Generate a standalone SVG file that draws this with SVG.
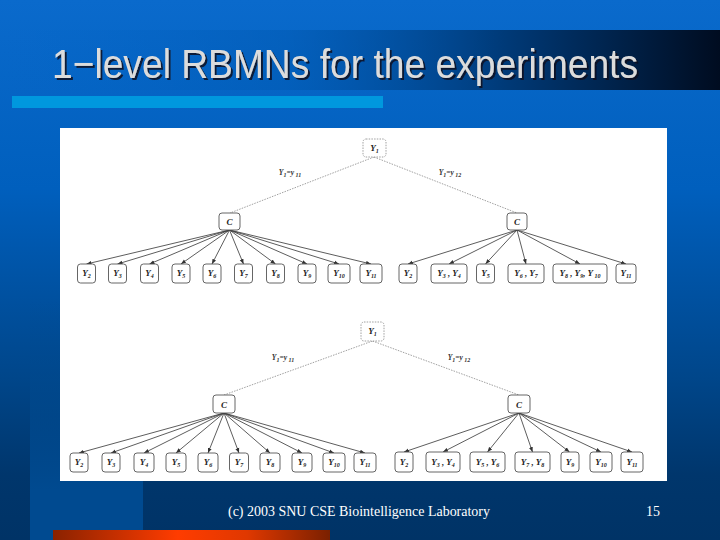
<svg xmlns="http://www.w3.org/2000/svg" width="720" height="540" viewBox="0 0 720 540">
<defs>
<linearGradient id="bg" x1="0" y1="0" x2="0" y2="540" gradientUnits="userSpaceOnUse">
<stop offset="0" stop-color="#0a6acc"/>
<stop offset="0.35" stop-color="#005fbd"/>
<stop offset="0.7" stop-color="#00468a"/>
<stop offset="0.88" stop-color="#00366c"/>
<stop offset="1" stop-color="#003366"/>
</linearGradient>
<linearGradient id="col" x1="0" y1="300" x2="0" y2="490" gradientUnits="userSpaceOnUse">
<stop offset="0" stop-color="#004a90" stop-opacity="0"/>
<stop offset="1" stop-color="#004a90" stop-opacity="1"/>
</linearGradient>
<linearGradient id="band" x1="0" y1="0" x2="1" y2="0">
<stop offset="0" stop-color="#0062c4" stop-opacity="0"/>
<stop offset="0.4" stop-color="#0058b0" stop-opacity="0.5"/>
<stop offset="0.7" stop-color="#003a78"/>
<stop offset="1" stop-color="#000c20"/>
</linearGradient>
<linearGradient id="orange" x1="0" y1="0" x2="1" y2="0">
<stop offset="0" stop-color="#8a2200"/>
<stop offset="0.45" stop-color="#ff3c00"/>
<stop offset="0.7" stop-color="#e03800"/>
<stop offset="1" stop-color="#7a2000"/>
</linearGradient>
<filter id="shadow" x="-5%" y="-20%" width="110%" height="150%">
<feDropShadow dx="2" dy="2" stdDeviation="0.6" flood-color="#0a1020" flood-opacity="0.85"/>
</filter>
<marker id="ah" viewBox="0 0 10 10" refX="10" refY="5" markerWidth="5" markerHeight="5" orient="auto" markerUnits="userSpaceOnUse">
<path d="M0,1 L10,5 L0,9 z" fill="#333"/>
</marker>
<style>
.leaf{fill:#fff;stroke:#555;stroke-width:0.9}
.root{fill:#fff;stroke:#888;stroke-width:0.8;stroke-dasharray:1.5 1.2}
.lbl{font-family:"Liberation Serif",serif;font-style:italic;font-weight:bold;font-size:9px;fill:#222;text-anchor:middle}
.sub{font-size:6px}
.el{font-family:"Liberation Serif",serif;font-style:italic;font-weight:bold;font-size:7.5px;fill:#333;text-anchor:middle}
.arr{stroke:#333;stroke-width:0.8;fill:none;marker-end:url(#ah)}
.dash{stroke:#888;stroke-width:0.8;fill:none;stroke-dasharray:1.5 1.2}
</style>
</defs>

<rect width="720" height="540" fill="url(#bg)"/>
<rect x="30" y="300" width="113" height="240" fill="url(#col)"/>
<rect x="0" y="30" width="720" height="60" fill="url(#band)"/>
<rect x="12" y="96" width="371" height="12" fill="#0098de"/>

<text x="52" y="78" font-family="Liberation Sans, Arial, sans-serif" font-size="41" fill="#dcdcdc" filter="url(#shadow)" textLength="586" lengthAdjust="spacingAndGlyphs">1−level RBMNs for the experiments</text>

<rect x="60" y="128" width="607" height="353" fill="#ffffff"/>

<g id="connectors">
<line class="dash" x1="374" y1="157" x2="230" y2="213"/>
<line class="dash" x1="374" y1="157" x2="517" y2="213"/>
<line class="dash" x1="372.5" y1="341" x2="224" y2="395"/>
<line class="dash" x1="372.5" y1="341" x2="519" y2="395"/>
<g>
<line class="arr" x1="229.5" y1="230" x2="86.5" y2="264"/>
<line class="arr" x1="229.5" y1="230" x2="117.5" y2="264"/>
<line class="arr" x1="229.5" y1="230" x2="149.5" y2="264"/>
<line class="arr" x1="229.5" y1="230" x2="181" y2="264"/>
<line class="arr" x1="229.5" y1="230" x2="212" y2="264"/>
<line class="arr" x1="229.5" y1="230" x2="243.5" y2="264"/>
<line class="arr" x1="229.5" y1="230" x2="275.5" y2="264"/>
<line class="arr" x1="229.5" y1="230" x2="307" y2="264"/>
<line class="arr" x1="229.5" y1="230" x2="339" y2="264"/>
<line class="arr" x1="229.5" y1="230" x2="371" y2="264"/>
</g>
<g>
<line class="arr" x1="517" y1="230" x2="408" y2="264"/>
<line class="arr" x1="517" y1="230" x2="449" y2="264"/>
<line class="arr" x1="517" y1="230" x2="485.5" y2="264"/>
<line class="arr" x1="517" y1="230" x2="526" y2="264"/>
<line class="arr" x1="517" y1="230" x2="580" y2="264"/>
<line class="arr" x1="517" y1="230" x2="626" y2="264"/>
</g>
<g>
<line class="arr" x1="224" y1="413" x2="79" y2="453"/>
<line class="arr" x1="224" y1="413" x2="111" y2="453"/>
<line class="arr" x1="224" y1="413" x2="144" y2="453"/>
<line class="arr" x1="224" y1="413" x2="176" y2="453"/>
<line class="arr" x1="224" y1="413" x2="208" y2="453"/>
<line class="arr" x1="224" y1="413" x2="239" y2="453"/>
<line class="arr" x1="224" y1="413" x2="270" y2="453"/>
<line class="arr" x1="224" y1="413" x2="302" y2="453"/>
<line class="arr" x1="224" y1="413" x2="334" y2="453"/>
<line class="arr" x1="224" y1="413" x2="365" y2="453"/>
</g>
<g>
<line class="arr" x1="519" y1="413" x2="404" y2="452"/>
<line class="arr" x1="519" y1="413" x2="443" y2="452"/>
<line class="arr" x1="519" y1="413" x2="487.5" y2="452"/>
<line class="arr" x1="519" y1="413" x2="532.5" y2="452"/>
<line class="arr" x1="519" y1="413" x2="569.5" y2="452"/>
<line class="arr" x1="519" y1="413" x2="601" y2="452"/>
<line class="arr" x1="519" y1="413" x2="632" y2="452"/>
</g>
<text class="el" x="290" y="175">Y<tspan class="sub" dy="1.5">1</tspan><tspan dy="-1.5">=y</tspan><tspan class="sub" dy="1.5"> 11</tspan></text>
<text class="el" x="450" y="175">Y<tspan class="sub" dy="1.5">1</tspan><tspan dy="-1.5">=y</tspan><tspan class="sub" dy="1.5"> 12</tspan></text>
<text class="el" x="283" y="360">Y<tspan class="sub" dy="1.5">1</tspan><tspan dy="-1.5">=y</tspan><tspan class="sub" dy="1.5"> 11</tspan></text>
<text class="el" x="459" y="360">Y<tspan class="sub" dy="1.5">1</tspan><tspan dy="-1.5">=y</tspan><tspan class="sub" dy="1.5"> 12</tspan></text>
</g>

<!-- Top tree -->
<g id="t-root"><rect class="root" x="363" y="139" width="23" height="18" rx="3"/><text class="lbl" x="374.5" y="151">Y<tspan class="sub" dy="2">1</tspan></text></g>
<g id="t-cl"><rect class="leaf" x="219" y="213" width="21" height="17" rx="3"/><text class="lbl" x="229.5" y="225">C</text></g>
<g id="t-cr"><rect class="leaf" x="507" y="213" width="20" height="17" rx="3"/><text class="lbl" x="517" y="225">C</text></g>

<g id="t-l2"><rect class="leaf" x="77.5" y="264" width="18" height="19" rx="3"/><text class="lbl" x="86.5" y="276">Y<tspan class="sub" dy="2">2</tspan></text></g>
<g id="t-l3"><rect class="leaf" x="108.5" y="264" width="18" height="19" rx="3"/><text class="lbl" x="117.5" y="276">Y<tspan class="sub" dy="2">3</tspan></text></g>
<g id="t-l4"><rect class="leaf" x="140.5" y="264" width="18" height="19" rx="3"/><text class="lbl" x="149.5" y="276">Y<tspan class="sub" dy="2">4</tspan></text></g>
<g id="t-l5"><rect class="leaf" x="172" y="264" width="18" height="19" rx="3"/><text class="lbl" x="181" y="276">Y<tspan class="sub" dy="2">5</tspan></text></g>
<g id="t-l6"><rect class="leaf" x="203" y="264" width="18" height="19" rx="3"/><text class="lbl" x="212" y="276">Y<tspan class="sub" dy="2">6</tspan></text></g>
<g id="t-l7"><rect class="leaf" x="234.5" y="264" width="18" height="19" rx="3"/><text class="lbl" x="243.5" y="276">Y<tspan class="sub" dy="2">7</tspan></text></g>
<g id="t-l8"><rect class="leaf" x="266.5" y="264" width="18" height="19" rx="3"/><text class="lbl" x="275.5" y="276">Y<tspan class="sub" dy="2">8</tspan></text></g>
<g id="t-l9"><rect class="leaf" x="298" y="264" width="18" height="19" rx="3"/><text class="lbl" x="307" y="276">Y<tspan class="sub" dy="2">9</tspan></text></g>
<g id="t-l10"><rect class="leaf" x="328" y="264" width="22" height="19" rx="3"/><text class="lbl" x="339" y="276">Y<tspan class="sub" dy="2">10</tspan></text></g>
<g id="t-l11"><rect class="leaf" x="360" y="264" width="22" height="19" rx="3"/><text class="lbl" x="371" y="276">Y<tspan class="sub" dy="2">11</tspan></text></g>

<g id="t-r2"><rect class="leaf" x="399" y="264" width="18" height="19" rx="3"/><text class="lbl" x="408" y="276">Y<tspan class="sub" dy="2">2</tspan></text></g>
<g id="t-r34"><rect class="leaf" x="431" y="264" width="36" height="19" rx="3"/><text class="lbl" x="449" y="276">Y<tspan class="sub" dy="2">3</tspan><tspan dy="-2"> , Y</tspan><tspan class="sub" dy="2">4</tspan></text></g>
<g id="t-r5"><rect class="leaf" x="476.5" y="264" width="18" height="19" rx="3"/><text class="lbl" x="485.5" y="276">Y<tspan class="sub" dy="2">5</tspan></text></g>
<g id="t-r67"><rect class="leaf" x="508" y="264" width="36" height="19" rx="3"/><text class="lbl" x="526" y="276">Y<tspan class="sub" dy="2">6</tspan><tspan dy="-2"> , Y</tspan><tspan class="sub" dy="2">7</tspan></text></g>
<g id="t-r8910"><rect class="leaf" x="553" y="264" width="54" height="19" rx="3"/><text class="lbl" x="580" y="276">Y<tspan class="sub" dy="2">8</tspan><tspan dy="-2"> , Y</tspan><tspan class="sub" dy="2">9</tspan><tspan dy="-2">, Y</tspan><tspan class="sub" dy="2"> 10</tspan></text></g>
<g id="t-r11"><rect class="leaf" x="616" y="264" width="20" height="19" rx="3"/><text class="lbl" x="626" y="276">Y<tspan class="sub" dy="2">11</tspan></text></g>

<!-- Bottom tree -->
<g id="b-root"><rect class="root" x="361" y="322" width="23" height="19" rx="3"/><text class="lbl" x="372.5" y="334">Y<tspan class="sub" dy="2">1</tspan></text></g>
<g id="b-cl"><rect class="leaf" x="213" y="395" width="22" height="18" rx="3"/><text class="lbl" x="224" y="407.5">C</text></g>
<g id="b-cr"><rect class="leaf" x="508" y="395" width="22" height="18" rx="3"/><text class="lbl" x="519" y="407.5">C</text></g>

<g id="b-l2"><rect class="leaf" x="70" y="453" width="18" height="19" rx="3"/><text class="lbl" x="79" y="465">Y<tspan class="sub" dy="2">2</tspan></text></g>
<g id="b-l3"><rect class="leaf" x="102" y="453" width="18" height="19" rx="3"/><text class="lbl" x="111" y="465">Y<tspan class="sub" dy="2">3</tspan></text></g>
<g id="b-l4"><rect class="leaf" x="134" y="453" width="20" height="19" rx="3"/><text class="lbl" x="144" y="465">Y<tspan class="sub" dy="2">4</tspan></text></g>
<g id="b-l5"><rect class="leaf" x="166" y="453" width="20" height="19" rx="3"/><text class="lbl" x="176" y="465">Y<tspan class="sub" dy="2">5</tspan></text></g>
<g id="b-l6"><rect class="leaf" x="198" y="453" width="20" height="19" rx="3"/><text class="lbl" x="208" y="465">Y<tspan class="sub" dy="2">6</tspan></text></g>
<g id="b-l7"><rect class="leaf" x="229.5" y="453" width="19" height="19" rx="3"/><text class="lbl" x="239" y="465">Y<tspan class="sub" dy="2">7</tspan></text></g>
<g id="b-l8"><rect class="leaf" x="260" y="453" width="20" height="19" rx="3"/><text class="lbl" x="270" y="465">Y<tspan class="sub" dy="2">8</tspan></text></g>
<g id="b-l9"><rect class="leaf" x="292" y="453" width="20" height="19" rx="3"/><text class="lbl" x="302" y="465">Y<tspan class="sub" dy="2">9</tspan></text></g>
<g id="b-l10"><rect class="leaf" x="323" y="453" width="22" height="19" rx="3"/><text class="lbl" x="334" y="465">Y<tspan class="sub" dy="2">10</tspan></text></g>
<g id="b-l11"><rect class="leaf" x="354" y="453" width="22" height="19" rx="3"/><text class="lbl" x="365" y="465">Y<tspan class="sub" dy="2">11</tspan></text></g>

<g id="b-r2"><rect class="leaf" x="395" y="452" width="18" height="20" rx="3"/><text class="lbl" x="404" y="464.5">Y<tspan class="sub" dy="2">2</tspan></text></g>
<g id="b-r34"><rect class="leaf" x="426" y="452" width="34" height="20" rx="3"/><text class="lbl" x="443" y="464.5">Y<tspan class="sub" dy="2">3</tspan><tspan dy="-2"> , Y</tspan><tspan class="sub" dy="2">4</tspan></text></g>
<g id="b-r56"><rect class="leaf" x="470" y="452" width="35" height="20" rx="3"/><text class="lbl" x="487.5" y="464.5">Y<tspan class="sub" dy="2">5</tspan><tspan dy="-2"> , Y</tspan><tspan class="sub" dy="2">6</tspan></text></g>
<g id="b-r78"><rect class="leaf" x="515" y="452" width="35" height="20" rx="3"/><text class="lbl" x="532.5" y="464.5">Y<tspan class="sub" dy="2">7</tspan><tspan dy="-2"> , Y</tspan><tspan class="sub" dy="2">8</tspan></text></g>
<g id="b-r9"><rect class="leaf" x="561" y="452" width="18" height="20" rx="3"/><text class="lbl" x="570" y="464.5">Y<tspan class="sub" dy="2">9</tspan></text></g>
<g id="b-r10"><rect class="leaf" x="590" y="452" width="22" height="20" rx="3"/><text class="lbl" x="601" y="464.5">Y<tspan class="sub" dy="2">10</tspan></text></g>
<g id="b-r11"><rect class="leaf" x="621" y="452" width="22" height="20" rx="3"/><text class="lbl" x="632" y="464.5">Y<tspan class="sub" dy="2">11</tspan></text></g>

<text x="359" y="516" font-family="Liberation Serif, serif" font-size="14" fill="#ffffff" text-anchor="middle" textLength="262" lengthAdjust="spacingAndGlyphs">(c) 2003 SNU CSE Biointelligence Laboratory</text>
<text x="653" y="516" font-family="Liberation Serif, serif" font-size="14" fill="#ffffff" text-anchor="middle">15</text>

<rect x="53" y="530" width="277" height="10" fill="url(#orange)"/>
</svg>
